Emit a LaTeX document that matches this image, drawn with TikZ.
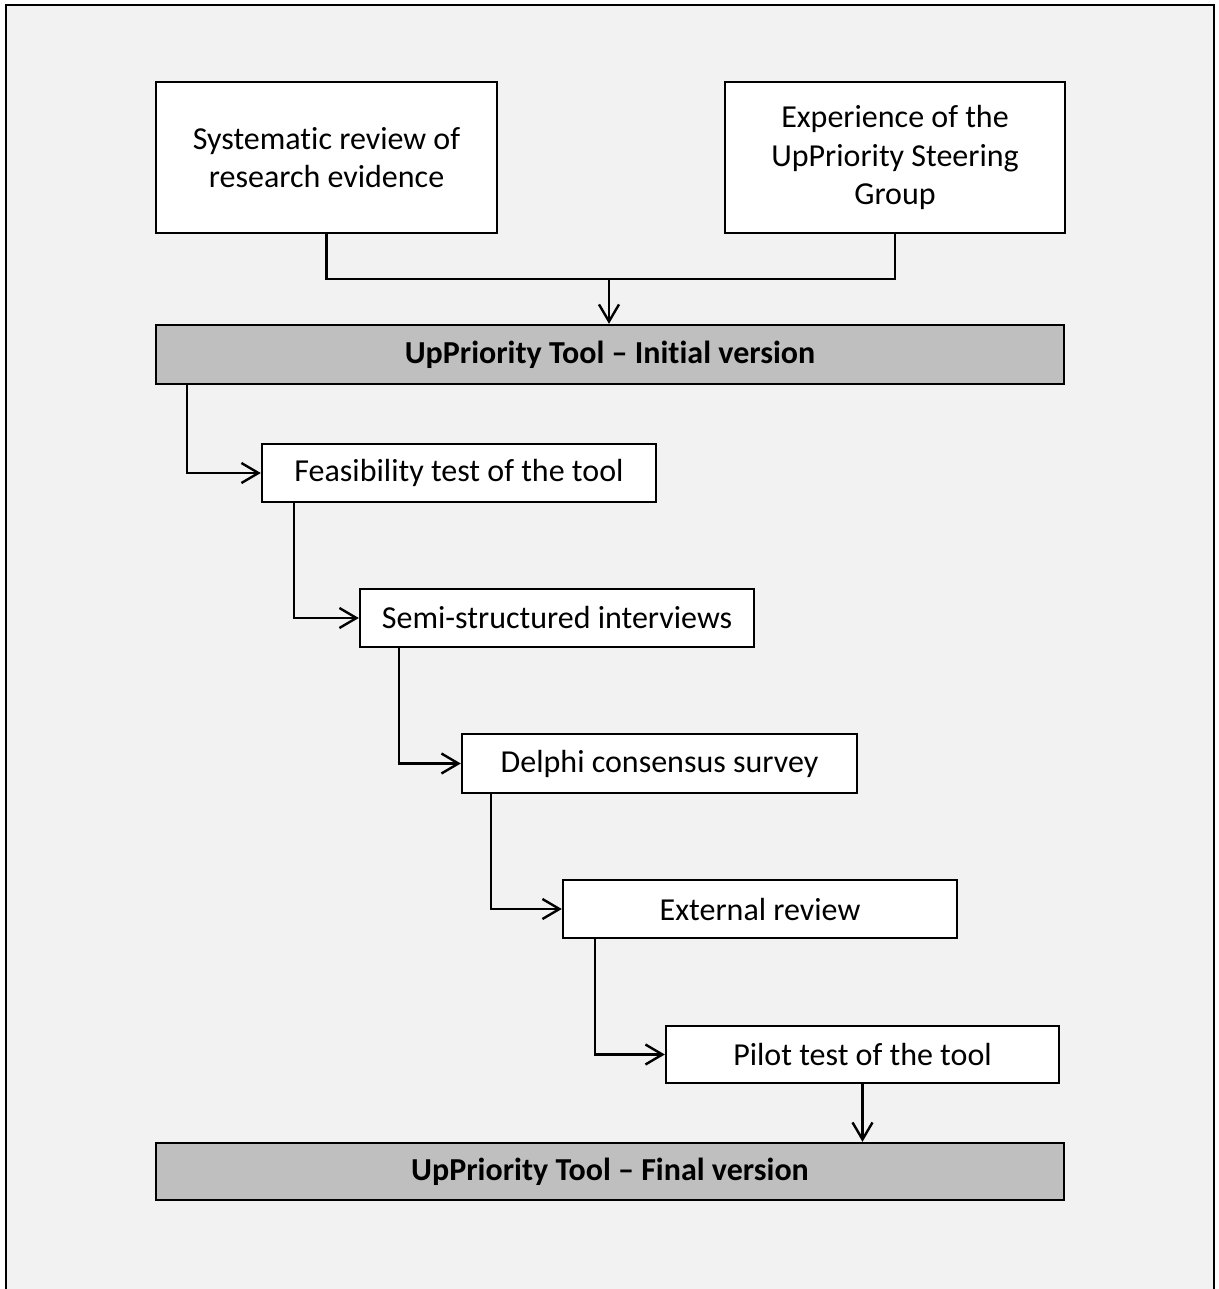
\documentclass[tikz,border=0pt]{standalone}
\usepackage{fontspec}
\setmainfont{Carlito}[Ligatures=NoCommon]
\usetikzlibrary{arrows.meta}
\definecolor{bgray}{HTML}{F2F2F2}
\definecolor{hgray}{HTML}{BFBFBF}
\begin{document}
\begin{tikzpicture}[x=1pt,y=-1pt,
  box/.style={draw=black, line width=2.4pt, fill=white, inner sep=0pt, align=center,
    font=\fontsize{32}{38.5}\selectfont},
  headbox/.style={box, fill=hgray, font=\fontsize{32}{38.5}\selectfont\bfseries},
  conn/.style={draw=black, line width=2.4pt},
  arr/.style={conn, -{Straight Barb[length=17pt,width=20pt,line width=2.4pt]}}]
\useasboundingbox (0,0) rectangle (1218,1289);
\fill[bgray] (6,5) rectangle (1214,1289);
\draw[line width=2.8pt] (6,1289) -- (6,5) -- (1214,5) -- (1214,1289);

\node[box, minimum width=341pt, minimum height=151pt] (A) at (326.5,157.5)
  {Systematic review of\\research evidence};
\node[box, minimum width=340pt, minimum height=151pt] (B) at (895,157.5)
  {Experience of the\\UpPriority Steering\\Group};
\node[headbox, minimum width=908pt, minimum height=59pt] (init) at (610,354.5)
  {UpPriority Tool – Initial version};
\node[box, minimum width=394pt, minimum height=58pt] (feas) at (459,473)
  {Feasibility test of the tool};
\node[box, minimum width=394pt, minimum height=58pt] (semi) at (557,618)
  {Semi-structured interviews};
\node[box, minimum width=395pt, minimum height=59pt] (delphi) at (659.5,763.5)
  {Delphi consensus survey};
\node[box, minimum width=394pt, minimum height=58pt] (ext) at (760,909)
  {External review};
\node[box, minimum width=393pt, minimum height=57pt] (pilot) at (862.5,1054.5)
  {Pilot test of the tool};
\node[headbox, minimum width=908pt, minimum height=57pt] (final) at (610,1171.5)
  {UpPriority Tool – Final version};

\coordinate (j) at (609,279);
\draw[conn] (A.south) |- (j) -| (B.south);
\draw[arr] (j) -- (j |- init.north);

\draw[arr] ([xshift=32pt]init.south west) |- (feas.west);
\draw[arr] ([xshift=33pt]feas.south west) |- (semi.west);
\draw[arr] ([xshift=40pt]semi.south west) |- (delphi.west);
\draw[arr] ([xshift=30pt]delphi.south west) |- (ext.west);
\draw[arr] ([xshift=33pt]ext.south west) |- (pilot.west);
\draw[arr] (pilot.south) -- (pilot.south |- final.north);
\end{tikzpicture}
\end{document}
